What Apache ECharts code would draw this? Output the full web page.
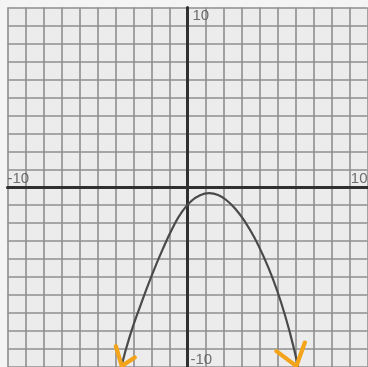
<!DOCTYPE html>
<html>
<head>
<meta charset="utf-8">
<script src="https://cdn.jsdelivr.net/npm/echarts@6/dist/echarts.min.js"></script>
<style>
  html, body { margin: 0; padding: 0; background: #f4f4f4; }
  #chart { width: 368px; height: 367px; }
</style>
</head>
<body>
<div id="chart"></div>
<script>
// Downward parabola sketched on graph paper, with arrowheads at both ends.
const axisRange = [-10, 10];
const edgeLabels = ['-10', '10'];

const curveX = [-3.68, -3.2, -2.6, -2.0, -1.4, -0.8, -0.3, 0.2, 0.7, 1.2, 1.7, 2.2, 2.7, 3.2, 3.7, 4.2, 4.7, 5.2, 5.7, 6.15];
const curveY = [-10, -8.27, -6.54, -4.94, -3.5, -2.21, -1.35, -0.78, -0.44, -0.33, -0.43, -0.75, -1.25, -1.93, -2.77, -3.8, -4.99, -6.41, -8.13, -10];

// Arrowhead strokes: arm, tip, arm
const leftArrowX = [-3.98, -3.65, -2.93];
const leftArrowY = [-8.84, -9.95, -9.47];
const rightArrowX = [4.94, 6.05, 6.52];
const rightArrowY = [-9.12, -9.95, -8.64];

const pairs = (xs, ys) => xs.map((x, i) => [x, ys[i]]);

const gridLine = { show: true, lineStyle: { color: '#8f8f8f', width: 1.6 } };
const axisLine = { show: true, onZero: true, lineStyle: { color: '#303030', width: 3 } };
const labelFont = { fontFamily: 'Liberation Sans', fontSize: 15, color: '#4d4d4d' };

// Edge labels sit on the axes at their end values
const axisEndLabels = [
  { value: [axisRange[0], 0], text: edgeLabels[0], align: 'left', verticalAlign: 'bottom', position: [0, -1] },
  { value: [axisRange[1], 0], text: edgeLabels[1], align: 'right', verticalAlign: 'bottom', position: [0, -1] },
  { value: [0, axisRange[1]], text: edgeLabels[1], align: 'left', verticalAlign: 'top', position: [5, 1] },
  { value: [0, axisRange[0]], text: edgeLabels[0], align: 'left', verticalAlign: 'bottom', position: [3, 0] }
];

const chart = echarts.init(document.getElementById('chart'));
chart.setOption({
  animation: false,
  backgroundColor: '#f4f4f4',
  grid: {
    left: 7.5, top: 7.5, width: 360, height: 360,
    show: true, backgroundColor: '#ececec', borderWidth: 0
  },
  xAxis: {
    type: 'value', min: axisRange[0], max: axisRange[1], interval: 1,
    splitLine: gridLine, axisLine: axisLine, axisTick: { show: false },
    axisLabel: { show: false }
  },
  yAxis: {
    type: 'value', min: axisRange[0], max: axisRange[1], interval: 1,
    splitLine: gridLine, axisLine: axisLine, axisTick: { show: false },
    axisLabel: { show: false }
  },
  series: [
    {
      type: 'line', data: pairs(curveX, curveY), smooth: 0.5, showSymbol: false,
      lineStyle: { color: '#4a4a4a', width: 2.2 }, z: 3
    },
    {
      type: 'line', data: pairs(leftArrowX, leftArrowY), showSymbol: false,
      lineStyle: { color: '#f3a41a', width: 4.2, cap: 'round', join: 'round' }, z: 4
    },
    {
      type: 'line', data: pairs(rightArrowX, rightArrowY), showSymbol: false,
      lineStyle: { color: '#f3a41a', width: 4.2, cap: 'round', join: 'round' }, z: 4
    },
    {
      type: 'scatter', symbolSize: 0, clip: false, silent: true, z: 5,
      data: axisEndLabels.map(d => ({
        value: d.value,
        label: Object.assign({
          show: true, formatter: d.text, position: d.position,
          align: d.align, verticalAlign: d.verticalAlign
        }, labelFont)
      }))
    }
  ]
});
</script>
</body>
</html>
